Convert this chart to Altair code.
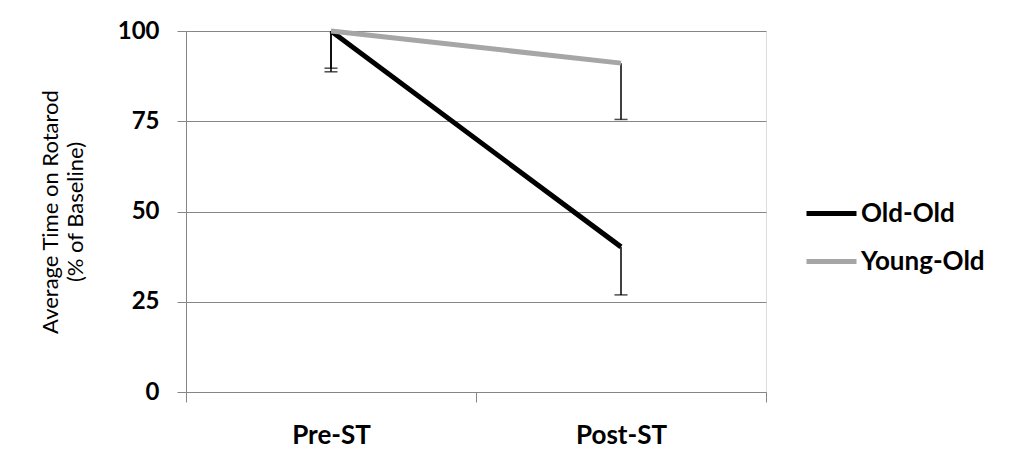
import altair as alt
import pandas as pd

phases = ["Pre-ST", "Post-ST"]
groups = ["Old-Old", "Young-Old"]
old_old = [100, 40.2]
young_old = [100, 91.1]
old_old_lower = [88.7, 26.9]
young_old_lower = [89.7, 75.5]
y_ticks = [0, 25, 50, 75, 100]

rows = []
for i, p in enumerate(phases):
    rows.append({"phase": p, "group": "Old-Old", "value": old_old[i], "lower": old_old_lower[i]})
    rows.append({"phase": p, "group": "Young-Old", "value": young_old[i], "lower": young_old_lower[i]})
df = pd.DataFrame(rows)

FONT = "Lato"
GRID = "#868686"

x_enc = alt.X(
    "phase:N",
    sort=phases,
    scale=alt.Scale(type="band", paddingInner=0, paddingOuter=0),
    axis=alt.Axis(
        title=None, labelAngle=0, tickBand="extent", tickSize=10, domainColor=GRID,
        tickColor=GRID, labelFontSize=26, labelFontWeight="bold", labelFont=FONT,
        labelColor="black", labelPadding=20, grid=False,
    ),
)
y_scale = alt.Scale(domain=[0, 100], nice=False)
y_axis = alt.Axis(
    values=y_ticks, title=["Average Time on Rotarod", "(% of Baseline)"],
    titleFont=FONT, titleFontSize=22, titleFontWeight="normal", titleColor="black",
    titleLineHeight=25, titlePadding=30,
    labelFont=FONT, labelFontSize=24, labelFontWeight="bold", labelColor="black",
    labelPadding=18, tickSize=9, tickColor=GRID, domainColor=GRID,
    grid=True, gridColor=GRID, gridWidth=1.2, gridOpacity=1,
)

color = alt.Color(
    "group:N", sort=groups,
    scale=alt.Scale(domain=groups, range=["#000000", "#a6a6a6"]),
    legend=alt.Legend(
        title=None, orient="none", legendX=618, legendY=155,
        symbolType="stroke", symbolSize=2500, symbolStrokeWidth=5,
        labelFont=FONT, labelFontSize=26, labelFontWeight="bold", labelColor="black",
        rowPadding=7, labelOffset=2,
    ),
)

err = alt.Chart(df).mark_rule(color="black", strokeWidth=1.5).encode(
    x=x_enc, y=alt.Y("value:Q", scale=y_scale, axis=y_axis), y2="lower:Q"
)
caps = alt.Chart(df).mark_tick(color="black", thickness=1.5, size=13, orient="horizontal").encode(
    x=x_enc, y=alt.Y("lower:Q", scale=y_scale)
)
lines = alt.Chart(df).mark_line(strokeWidth=5).encode(
    x=x_enc, y=alt.Y("value:Q", scale=y_scale), color=color,
    order=alt.Order("group:N", sort="descending"),
    detail="group:N",
)

chart = alt.layer(err, caps, lines).properties(
    width=580, height=361,
    autosize=alt.AutoSizeParams(type="none"),
    padding={"left": 178, "top": 23, "right": 244, "bottom": 69},
).configure_view(stroke=None).configure(background="white")

chart.save("out.html", embed_options={"renderer": "svg", "actions": False})
